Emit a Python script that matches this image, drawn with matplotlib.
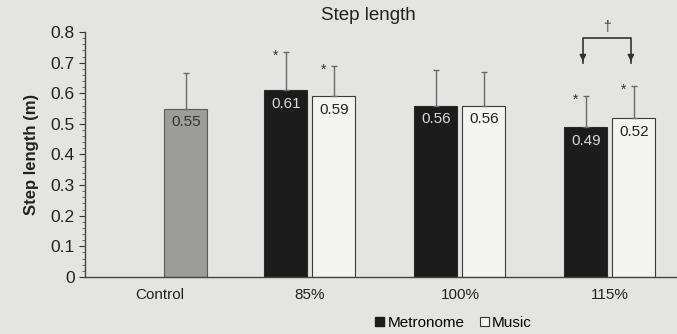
import numpy as np
import matplotlib.pyplot as plt
from matplotlib.patches import Rectangle
from matplotlib.ticker import MultipleLocator, FuncFormatter

plt.rcParams['font.family'] = ['Liberation Sans', 'DejaVu Sans']

categories = ['Control', '85%', '100%', '115%']
control_val = 0.55
control_err = 0.115
metronome = [0.61, 0.56, 0.49]
metronome_err = [0.125, 0.115, 0.10]
music = [0.59, 0.56, 0.52]
music_err = [0.10, 0.11, 0.105]
signif_metronome = [True, False, True]
signif_music = [True, False, True]

bg = '#e4e4e2'
fig = plt.figure(figsize=(6.77, 3.34), dpi=100, facecolor=bg)
ax = fig.add_axes([0.1256, 0.171, 0.886, 0.733])
ax.set_facecolor(bg)

w = 0.287
off = 0.16
xc = np.arange(len(categories))
xm = xc[1:] - off
xu = xc[1:] + off
xctrl = xc[0] + 0.173

ekw = dict(ecolor='#6a6a6a', elinewidth=1, capsize=2, capthick=1)
ax.bar(xctrl, control_val, w, color='#9c9c9a', edgecolor='#5a5a5a', lw=0.8,
       yerr=[[0], [control_err]], error_kw=ekw)
ax.bar(xm, metronome, w, color='#1c1c1c', edgecolor='#2a2a2a', lw=0.8,
       yerr=[np.zeros(3), metronome_err], error_kw=ekw)
ax.bar(xu, music, w, color='#f4f4f2', edgecolor='#3a3a3a', lw=0.8,
       yerr=[np.zeros(3), music_err], error_kw=ekw)

lab = 11
ax.text(xctrl, control_val - 0.045, f'{control_val:.2f}', ha='center', va='center',
        fontsize=lab, color='#333333')
for x, v, e, s in zip(xm, metronome, metronome_err, signif_metronome):
    ax.text(x, v - 0.045, f'{v:.2f}', ha='center', va='center', fontsize=lab, color='#d8d8d8')
    if s:
        ax.text(x - 0.07, v + e - 0.012, '*', ha='center', va='center', fontsize=10, color='#333333')
for x, v, e, s in zip(xu, music, music_err, signif_music):
    ax.text(x, v - 0.045, f'{v:.2f}', ha='center', va='center', fontsize=lab, color='#222222')
    if s:
        ax.text(x - 0.07, v + e - 0.012, '*', ha='center', va='center', fontsize=10, color='#333333')

# bracket between metronome and music at 115%
bx0, bx1 = xm[2] - 0.02, xu[2] - 0.02
ax.plot([bx0, bx0, bx1, bx1], [0.70, 0.78, 0.78, 0.70], color='#333333', lw=1.2, clip_on=False)
for bx in (bx0, bx1):
    ax.annotate('', xy=(bx, 0.695), xytext=(bx, 0.72),
                arrowprops=dict(arrowstyle='-|>', color='#333333', lw=1.2, mutation_scale=9))
ax.text((bx0 + bx1) / 2, 0.815, '†', ha='center', va='center', fontsize=10, color='#333333',
        clip_on=False)

ax.set_xlim(-0.5, 3.5)
ax.set_ylim(0, 0.8)
ax.yaxis.set_major_locator(MultipleLocator(0.1))
ax.yaxis.set_minor_locator(MultipleLocator(0.02))
ax.yaxis.set_major_formatter(FuncFormatter(lambda v, p: '0' if abs(v) < 1e-9 else f'{v:.1f}'))
ax.set_xticks(xc)
ax.set_xticklabels(categories, fontsize=11, color='#222222')
ax.tick_params(axis='x', length=0, pad=8)
ax.tick_params(axis='y', which='major', length=4, labelsize=12.5, colors='#333333', labelcolor='#222222')
ax.tick_params(axis='y', which='minor', length=2.5, colors='#555555')
for s in ('top', 'right'):
    ax.spines[s].set_visible(False)
for s in ('left', 'bottom'):
    ax.spines[s].set_color('#444444')
    ax.spines[s].set_linewidth(1)

ax.set_ylabel('Step length (m)', fontsize=12, fontweight='bold', color='#222222', labelpad=8)
fig.text(0.544, 0.955, 'Step length', ha='center', va='center', fontsize=13.5, color='#222222')

handles = [Rectangle((0, 0), 1, 1, fc='#1c1c1c', ec='#1c1c1c'),
           Rectangle((0, 0), 1, 1, fc='#f4f4f2', ec='#333333', lw=0.8)]
fig.legend(handles, ['Metronome', 'Music'], loc='center', bbox_to_anchor=(0.67, 0.033),
           ncol=2, frameon=False, fontsize=11, handlelength=0.6, handleheight=0.6,
           handletextpad=0.2, columnspacing=1.0)

fig.savefig('out.png', dpi=100, facecolor=bg)
